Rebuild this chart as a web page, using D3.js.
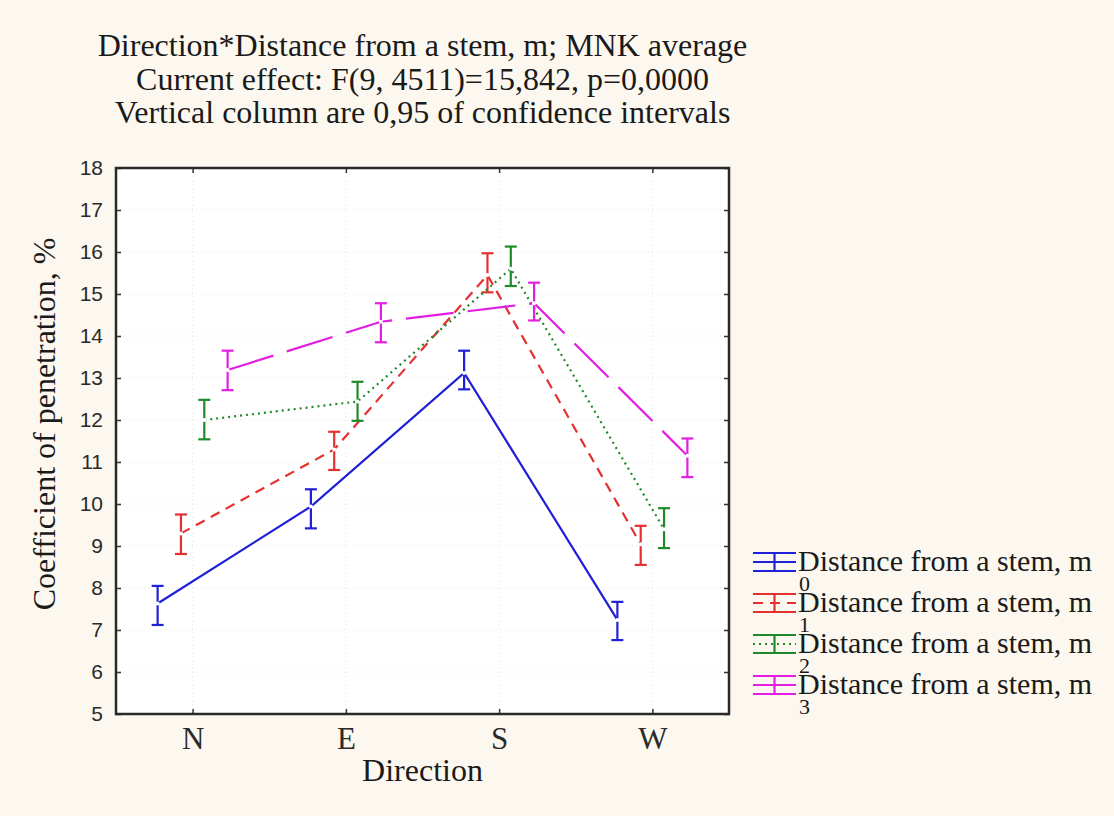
<!DOCTYPE html>
<html>
<head>
<meta charset="utf-8">
<script src="https://cdn.jsdelivr.net/npm/d3@7"></script>
<style>
  body { margin: 0; background: #fcf8ef; }
  .serif { font-family: "Liberation Serif", "Times New Roman", serif; fill: #1a1a1a; }
  .tick text { fill: #2a2a2a; }
</style>
</head>
<body>
<div id="chart"></div>
<script>
// values
let directions = ["N", "E", "S", "W"];
let distances = ["0", "1", "2", "3"];
let yTicks = [5, 6, 7, 8, 9, 10, 11, 12, 13, 14, 15, 16, 17, 18];

let mean0 = [7.63, 9.94, 13.12, 7.24];
let mean1 = [9.30, 11.30, 15.45, 9.04];
let mean2 = [12.00, 12.44, 15.60, 9.40];
let mean3 = [13.19, 14.34, 14.78, 11.15];

let low0 = [7.12, 9.42, 12.73, 6.76];
let low1 = [8.81, 10.81, 15.04, 8.55];
let low2 = [11.54, 11.98, 15.19, 8.95];
let low3 = [12.71, 13.85, 14.37, 10.64];

let high0 = [8.05, 10.35, 13.65, 7.67];
let high1 = [9.75, 11.72, 15.97, 9.48];
let high2 = [12.48, 12.91, 16.13, 9.90];
let high3 = [13.65, 14.78, 15.27, 11.56];

let titleLines = [
    "Direction*Distance from a stem, m; MNK average",
    "Current effect: F(9, 4511)=15,842, p=0,0000",
    "Vertical column are 0,95 of confidence intervals"
];
let legendLabel = "Distance from a stem, m";

let colors = ["#2020d8", "#e43030", "#1f8a2a", "#e21ee2"];
let dashes = [null, "10,7", "2,4", "48,14"];

let w = 1114, h = 816;
let plotLeft = 116, plotRight = 729, plotTop = 168, plotBottom = 714;

let means = [mean0, mean1, mean2, mean3];
let lows = [low0, low1, low2, low3];
let highs = [high0, high1, high2, high3];

let svg = d3.select("#chart").append("svg")
    .attr("width", w)
    .attr("height", h);

let xScale = d3.scalePoint()
    .domain(directions)
    .range([plotLeft, plotRight])
    .padding(0.5);
let offset = d3.scalePoint()
    .domain(distances)
    .range([-35, 35]);
let yScale = d3.scaleLinear()
    .domain([5, 18])
    .range([plotBottom, plotTop]);

// plot area
svg.append("rect")
    .attr("x", plotLeft).attr("y", plotTop)
    .attr("width", plotRight - plotLeft).attr("height", plotBottom - plotTop)
    .attr("fill", "#ffffff");

// faint grid
svg.append("g").selectAll("line")
    .data(yTicks.slice(1, -1))
    .enter().append("line")
    .attr("x1", plotLeft).attr("x2", plotRight)
    .attr("y1", (d) => yScale(d)).attr("y2", (d) => yScale(d))
    .attr("stroke", "#e4e4e4").attr("stroke-dasharray", "1,3");
svg.append("g").selectAll("line")
    .data(directions)
    .enter().append("line")
    .attr("x1", (d) => xScale(d)).attr("x2", (d) => xScale(d))
    .attr("y1", plotTop).attr("y2", plotBottom)
    .attr("stroke", "#e4e4e4").attr("stroke-dasharray", "1,3");

// axes
let yAxis = svg.append("g")
    .attr("transform", "translate(" + plotLeft + ",0)")
    .call(d3.axisLeft(yScale).tickValues(yTicks).tickSize(-5).tickPadding(13));
yAxis.selectAll("text")
    .style("font-family", "'Liberation Sans', Arial, sans-serif")
    .style("font-size", "21px");
svg.append("g")
    .attr("transform", "translate(" + plotRight + ",0)")
    .call(d3.axisRight(yScale).tickValues(yTicks).tickSize(-5).tickFormat(""));

let xAxis = svg.append("g")
    .attr("transform", "translate(0," + plotBottom + ")")
    .call(d3.axisBottom(xScale).tickSize(-5).tickPadding(13));
xAxis.selectAll("text")
    .attr("class", "serif")
    .style("font-size", "31px");
svg.append("g")
    .attr("transform", "translate(0," + plotTop + ")")
    .call(d3.axisTop(xScale).tickSize(-5).tickFormat(""));

svg.selectAll(".domain").remove();
svg.selectAll(".tick line").attr("stroke", "#333").attr("stroke-width", 1.5);

svg.append("rect")
    .attr("x", plotLeft).attr("y", plotTop)
    .attr("width", plotRight - plotLeft).attr("height", plotBottom - plotTop)
    .attr("fill", "none")
    .attr("stroke", "#2a2a2a")
    .attr("stroke-width", 2.5);

// series lines
let line = d3.line()
    .x((d) => d.x)
    .y((d) => d.y);

for (let s = 0; s < distances.length; ++s) {
    let pts = directions.map(function(dir, i) {
        return {
            x: xScale(dir) + offset(distances[s]),
            y: yScale(means[s][i]),
            lo: yScale(lows[s][i]),
            hi: yScale(highs[s][i])
        };
    });
    svg.append("path")
        .datum(pts)
        .attr("d", line)
        .attr("fill", "none")
        .attr("stroke", colors[s])
        .attr("stroke-width", 2.2)
        .attr("stroke-dasharray", dashes[s]);

    let bars = svg.append("g")
        .attr("stroke", colors[s])
        .attr("stroke-width", 2.2);
    bars.selectAll(".v").data(pts).enter().append("line")
        .attr("x1", (p) => p.x).attr("x2", (p) => p.x)
        .attr("y1", (p) => p.lo).attr("y2", (p) => p.hi);
    bars.selectAll(".lo").data(pts).enter().append("line")
        .attr("x1", (p) => p.x - 6).attr("x2", (p) => p.x + 6)
        .attr("y1", (p) => p.lo).attr("y2", (p) => p.lo);
    bars.selectAll(".hi").data(pts).enter().append("line")
        .attr("x1", (p) => p.x - 6).attr("x2", (p) => p.x + 6)
        .attr("y1", (p) => p.hi).attr("y2", (p) => p.hi);
    svg.append("g").selectAll("circle").data(pts).enter().append("circle")
        .attr("cx", (p) => p.x).attr("cy", (p) => p.y)
        .attr("r", 2)
        .attr("fill", "#ffffff");
}

// titles
svg.append("g").selectAll("text")
    .data(titleLines)
    .enter().append("text")
    .attr("class", "serif")
    .attr("x", (plotLeft + plotRight) / 2)
    .attr("y", (d, i) => 56 + i * 33.5)
    .attr("text-anchor", "middle")
    .style("font-size", "32px")
    .text((d) => d);

svg.append("text")
    .attr("class", "serif")
    .attr("x", (plotLeft + plotRight) / 2)
    .attr("y", 781)
    .attr("text-anchor", "middle")
    .style("font-size", "32px")
    .text("Direction");

svg.append("text")
    .attr("class", "serif")
    .attr("transform", "translate(55," + ((plotTop + plotBottom) / 2 - 17) + ") rotate(-90)")
    .attr("text-anchor", "middle")
    .style("font-size", "32px")
    .text("Coefficient of penetration, %");

// legend
let legend = svg.append("g");
for (let s = 0; s < distances.length; ++s) {
    let cy = 562 + s * 41;
    let g = legend.append("g").attr("stroke", colors[s]).attr("stroke-width", 2.2);
    g.append("line").attr("x1", 753).attr("x2", 796).attr("y1", cy - 9).attr("y2", cy - 9);
    g.append("line").attr("x1", 753).attr("x2", 796).attr("y1", cy + 9).attr("y2", cy + 9);
    g.append("line").attr("x1", 753).attr("x2", 796).attr("y1", cy).attr("y2", cy)
        .attr("stroke-dasharray", dashes[s]);
    g.append("line").attr("x1", 774.5).attr("x2", 774.5).attr("y1", cy - 9).attr("y2", cy + 9);
    legend.append("text")
        .attr("class", "serif")
        .attr("x", 798).attr("y", cy + 9)
        .style("font-size", "30px")
        .text(legendLabel);
    legend.append("text")
        .attr("class", "serif")
        .attr("x", 799).attr("y", cy + 29)
        .style("font-size", "22px")
        .text(distances[s]);
}
</script>
</body>
</html>
